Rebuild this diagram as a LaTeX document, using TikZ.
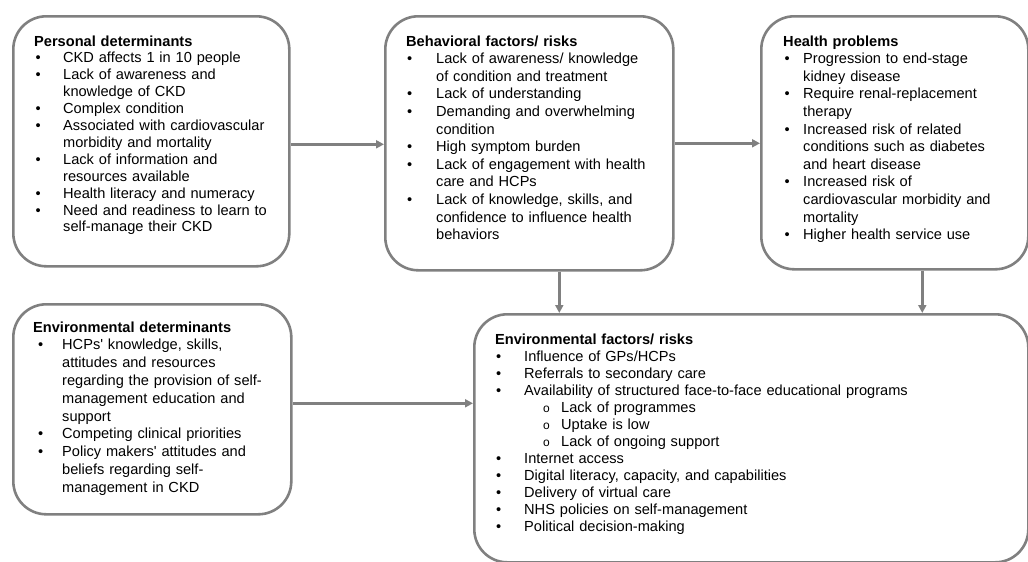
\documentclass[tikz,border=0pt]{standalone}
\usepackage{fontspec}
\setmainfont{Liberation Sans}
\usetikzlibrary{arrows.meta}

\definecolor{framegray}{RGB}{128,128,128}
\newlength\bulpos
\newlength\txtpos
\newcommand{\btitle}[1]{\noindent\textbf{#1}}
\newcommand{\pitem}[1]{\par\noindent\hangindent=\txtpos\hangafter=1\makebox[\txtpos][l]{\hspace*{\bulpos}\textbullet}#1}
\newcommand{\oitem}[1]{\par\noindent\hangindent=66pt\hangafter=1\makebox[66pt][l]{\hspace*{48pt}{\fontsize{12}{12}\selectfont o}}#1}

\tikzset{
	bubble/.style={draw=framegray, line width=2.6pt, rounded corners=33pt, anchor=north west, inner sep=0pt},
	itemtext/.style={anchor=base west, inner sep=0pt, text width=#1, align=left},
	arr/.style={draw=framegray, line width=2.6pt, -{Triangle[length=8pt, width=8pt]}},
}

\begin{document}
\begin{tikzpicture}[x=1pt, y=-1pt]
	\useasboundingbox (0,0) rectangle (1028,562);
	\node[bubble, minimum width=276pt, minimum height=250pt] (pd) at (12,15) {};
	\node[bubble, minimum width=288pt, minimum height=254pt] (bf) at (384,15) {};
	\node[bubble, minimum width=267pt, minimum height=253pt] (hp) at (760,15) {};
	\node[bubble, minimum width=278pt, minimum height=210pt] (ed) at (12,303) {};
	\node[bubble, minimum width=554pt, minimum height=248pt] (ef) at (473,313) {};

	\node[itemtext=250pt, font=\fontsize{14.6}{16.9}\selectfont] (pdt) at (34,46) {%
		\setlength\bulpos{1.5pt}\setlength\txtpos{29pt}%
		\btitle{Personal determinants}
		\pitem{CKD affects 1 in 10 people}
		\pitem{Lack of awareness and\newline knowledge of CKD}
		\pitem{Complex condition}
		\pitem{Associated with cardiovascular\newline morbidity and mortality}
		\pitem{Lack of information and\newline resources available}
		\pitem{Health literacy and numeracy}
		\pitem{Need and readiness to learn to\newline self-manage their CKD}\par};
	\node[itemtext=262pt, font=\fontsize{14.6}{17.6}\selectfont] (bft) at (406,46) {%
		\setlength\bulpos{1pt}\setlength\txtpos{30pt}%
		\btitle{Behavioral factors/ risks}
		\pitem{Lack of awareness/ knowledge\newline of condition and treatment}
		\pitem{Lack of understanding}
		\pitem{Demanding and overwhelming\newline condition}
		\pitem{High symptom burden}
		\pitem{Lack of engagement with health\newline care and HCPs}
		\pitem{Lack of knowledge, skills, and\newline confidence to influence health\newline behaviors}\par};
	\node[itemtext=240pt, font=\fontsize{14.6}{17.6}\selectfont] (hpt) at (783,46) {%
		\setlength\bulpos{1.5pt}\setlength\txtpos{20pt}%
		\btitle{Health problems}
		\pitem{Progression to end-stage\newline kidney disease}
		\pitem{Require renal-replacement\newline therapy}
		\pitem{Increased risk of related\newline conditions such as diabetes\newline and heart disease}
		\pitem{Increased risk of\newline cardiovascular morbidity and\newline mortality}
		\pitem{Higher health service use}\par};
	\node[itemtext=255pt, font=\fontsize{14.6}{17.8}\selectfont] (edt) at (33,332) {%
		\setlength\bulpos{5pt}\setlength\txtpos{29pt}%
		\btitle{Environmental determinants}
		\pitem{HCPs\textquotesingle\ knowledge, skills,\newline attitudes and resources\newline regarding the provision of self-\newline management education and\newline support}
		\pitem{Competing clinical priorities}
		\pitem{Policy makers\textquotesingle\ attitudes and\newline beliefs regarding self-\newline management in CKD}\par};
	\node[itemtext=520pt, font=\fontsize{14.6}{17}\selectfont] (eft) at (495,344) {%
		\setlength\bulpos{1pt}\setlength\txtpos{29pt}%
		\btitle{Environmental factors/ risks}
		\pitem{Influence of GPs/HCPs}
		\pitem{Referrals to secondary care}
		\pitem{Availability of structured face-to-face educational programs}
		\oitem{Lack of programmes}
		\oitem{Uptake is low}
		\oitem{Lack of ongoing support}
		\pitem{Internet access}
		\pitem{Digital literacy, capacity, and capabilities}
		\pitem{Delivery of virtual care}
		\pitem{NHS policies on self-management}
		\pitem{Political decision-making}\par};

	\draw[arr] ([yshift=-3pt]pd.east) -- ([yshift=-3pt]pd.east -| bf.west);
	\draw[arr] (bf.east) -- (bf.east -| hp.west);
	\draw[arr] ([xshift=30pt]bf.south) -- ([xshift=30pt]bf.south |- ef.north);
	\draw[arr] ([xshift=27.5pt]hp.south) -- ([xshift=27.5pt]hp.south |- ef.north);
	\draw[arr] ([yshift=6pt]ed.east) -- ([yshift=6pt]ed.east -| ef.west);
\end{tikzpicture}
\end{document}
